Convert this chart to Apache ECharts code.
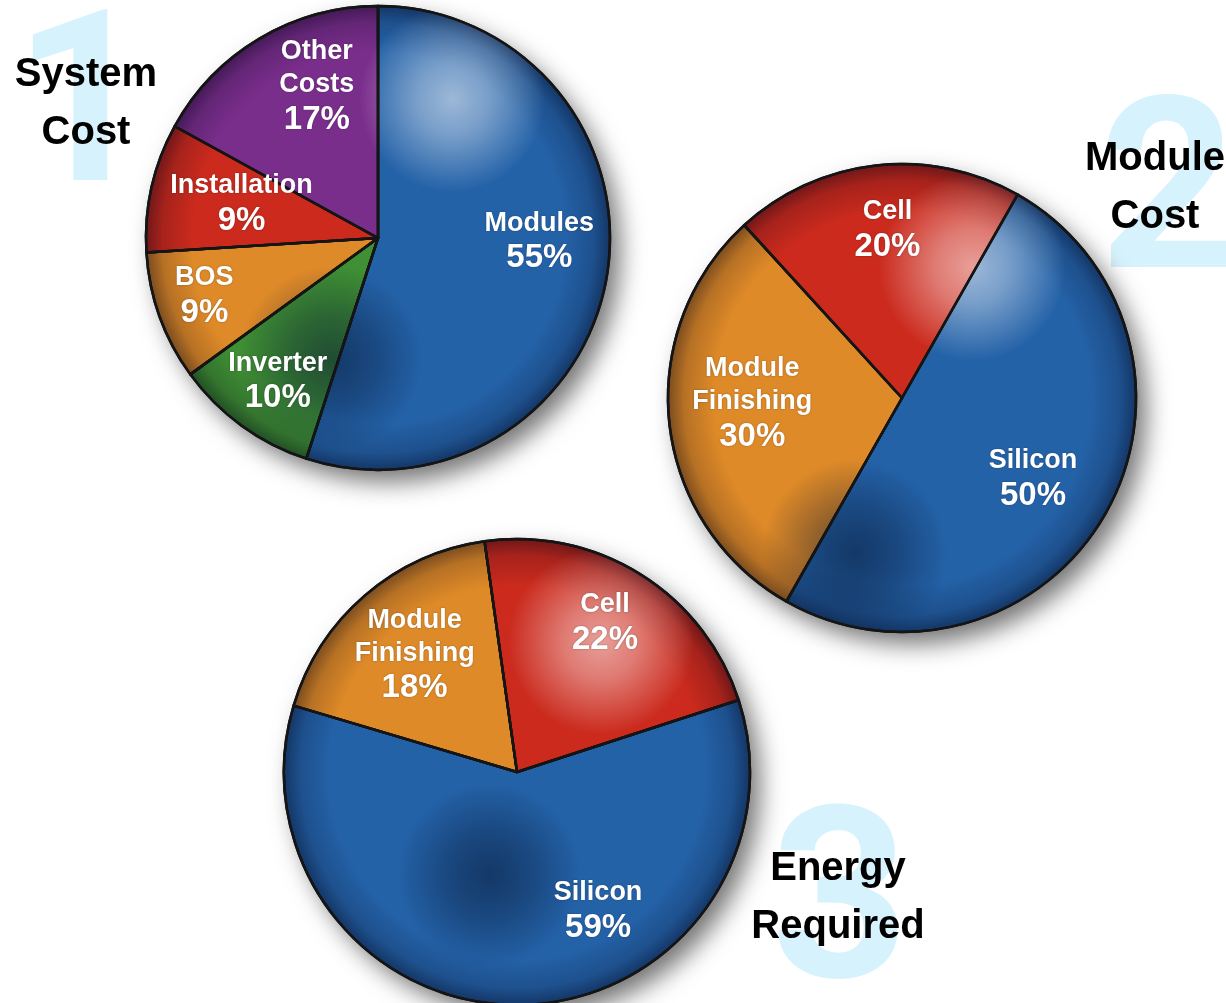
<!DOCTYPE html>
<html>
<head>
<meta charset="utf-8">
<title>PV cost and energy breakdown</title>
<script src="https://cdn.jsdelivr.net/npm/echarts@6/dist/echarts.min.js"></script>
<style>
  html, body { margin: 0; padding: 0; background: #ffffff; }
  #chart { width: 1226px; height: 1003px; }
</style>
</head>
<body>
<div id="chart"></div>
<script>
// 1 - System cost shares (%)
const systemCategories = ['Modules', 'Inverter', 'BOS', 'Installation', 'Other Costs'];
const systemValues = [55, 10, 9, 9, 17];

// 2 - Module cost shares (%)
const moduleCategories = ['Silicon', 'Module Finishing', 'Cell'];
const moduleValues = [50, 30, 20];

// 3 - Energy required shares (%)
const energyCategories = ['Silicon', 'Module Finishing', 'Cell'];
const energyValues = [59, 18, 22];

const panelTitles = ['System\nCost', 'Module\nCost', 'Energy\nRequired'];
const panelNumbers = ['1', '2', '3'];

// ---- styling ----
const FONT = '"Liberation Sans", "Helvetica Neue", Arial, sans-serif';
const NUMBER_FONT = 'Roboto, "Liberation Sans", Arial, sans-serif';
const sliceColors = {
  'Modules': '#2462a8',
  'Silicon': '#2462a8',
  'Inverter': '#3f8f34',
  'BOS': '#df8a28',
  'Module Finishing': '#df8a28',
  'Installation': '#cb2a1d',
  'Cell': '#cb2a1d',
  'Other Costs': '#7a2e8c'
};
const lineBreakNames = { 'Other Costs': 'Other\nCosts', 'Module Finishing': 'Module\nFinishing' };

// pie geometry and hand-placed label nudges
const panels = [
  { cats: systemCategories, vals: systemValues, center: [378, 238], r: 232, start: 90,
    nudge: { 'Modules': [-2, -22], 'Inverter': [-3, 10], 'BOS': [-18, 2], 'Installation': [25, 2], 'Other Costs': [23, -9] },
    glow: [0.66, 0.2], shade: [0.4, 0.76] },
  { cats: moduleCategories, vals: moduleValues, center: [902, 398], r: 234, start: 60.4,
    nudge: { 'Silicon': [-14, -1], 'Module Finishing': [16, -13], 'Cell': [4, -2] },
    glow: [0.65, 0.22], shade: [0.4, 0.83] },
  { cats: energyCategories, vals: energyValues, center: [517, 772], r: 233, start: 18,
    nudge: { 'Silicon': [79, -27], 'Module Finishing': [6, 9], 'Cell': [0, -8] },
    glow: [0.68, 0.22], shade: [0.44, 0.72] }
];

function radial(x, y, r, stops) {
  return { type: 'radial', x: x, y: y, r: r,
    colorStops: stops.map(s => ({ offset: s[0], color: s[1] })) };
}

function labelText(name, value) {
  const lines = (lineBreakNames[name] || name).split('\n').map(l => '{n|' + l + '}');
  return lines.join('\n') + '\n{p|' + value + '%}';
}

const common = { type: 'pie', silent: true, animation: false, clockwise: true,
  label: { show: false }, labelLine: { show: false }, emphasis: { disabled: true } };

const series = [];
panels.forEach(p => {
  // soft drop shadow under the disc
  series.push(Object.assign({}, common, {
    z: 1, center: p.center, radius: p.r, startAngle: p.start,
    data: [{ value: 1, itemStyle: { color: '#ffffff', shadowBlur: 24, shadowOffsetX: 10,
      shadowOffsetY: 12, shadowColor: 'rgba(0,0,0,0.55)' } }]
  }));
  // the slices
  series.push(Object.assign({}, common, {
    z: 2, center: p.center, radius: p.r, startAngle: p.start,
    data: p.cats.map((c, i) => ({ name: c, value: p.vals[i],
      itemStyle: { color: sliceColors[c], borderColor: '#151515', borderWidth: 2.5 } }))
  }));
  // rim darkening
  series.push(Object.assign({}, common, {
    z: 3, center: p.center, radius: p.r, startAngle: p.start,
    data: [{ value: 1, itemStyle: { borderWidth: 0, color: radial(0.5, 0.5, 0.5, [
      [0, 'rgba(0,0,20,0)'], [0.8, 'rgba(0,0,20,0)'], [0.93, 'rgba(0,0,20,0.18)'], [1, 'rgba(0,0,20,0.45)']]) } }]
  }));
  // specular highlight
  series.push(Object.assign({}, common, {
    z: 3, center: p.center, radius: p.r, startAngle: p.start,
    data: [{ value: 1, itemStyle: { borderWidth: 0, color: radial(p.glow[0], p.glow[1], 0.2, [
      [0, 'rgba(255,255,255,0.55)'], [0.4, 'rgba(255,255,255,0.38)'], [1, 'rgba(255,255,255,0)']]) } }]
  }));
  // dark spot lower down
  series.push(Object.assign({}, common, {
    z: 3, center: p.center, radius: p.r, startAngle: p.start,
    data: [{ value: 1, itemStyle: { borderWidth: 0, color: radial(p.shade[0], p.shade[1], 0.2, [
      [0, 'rgba(6,22,50,0.55)'], [0.45, 'rgba(6,22,50,0.35)'], [1, 'rgba(6,22,50,0)']]) } }]
  }));
  // slice outlines on top of shading
  series.push(Object.assign({}, common, {
    z: 4, center: p.center, radius: p.r, startAngle: p.start,
    data: p.cats.map((c, i) => ({ name: c, value: p.vals[i],
      itemStyle: { color: 'rgba(0,0,0,0)', borderColor: '#151515', borderWidth: 2.5 } }))
  }));
  // value labels
  series.push(Object.assign({}, common, {
    z: 5, center: p.center, radius: [p.r * 0.4, p.r], startAngle: p.start,
    data: p.cats.map((c, i) => ({ name: c, value: p.vals[i],
      itemStyle: { color: 'rgba(0,0,0,0)', borderWidth: 0 },
      label: { offset: p.nudge[c] || [0, 0] } })),
    label: {
      show: true, position: 'inside',
      formatter: prm => labelText(prm.name, prm.value),
      color: '#ffffff', align: 'center',
      rich: {
        n: { fontFamily: FONT, fontWeight: 'bold', fontSize: 27, lineHeight: 33, color: '#ffffff',
             textShadowColor: 'rgba(0,0,0,0.35)', textShadowBlur: 2 },
        p: { fontFamily: FONT, fontWeight: 'bold', fontSize: 33, lineHeight: 37, color: '#ffffff',
             textShadowColor: 'rgba(0,0,0,0.35)', textShadowBlur: 2 }
      }
    }
  }));
});

// big soft panel numbers and panel titles
const numberPos = [[82, 120], [1168, 207], [840, 917]];
const titlePos = [[86, 104], [1155, 188], [838, 898]];
const graphics = [];
panelNumbers.forEach((t, i) => {
  graphics.push({
    type: 'text', z: 0, silent: true,
    x: numberPos[i][0], y: numberPos[i][1],
    style: { text: t, font: 'bold 240px ' + NUMBER_FONT, fill: '#d6f2fc', align: 'center',
      verticalAlign: 'middle', shadowColor: '#d6f2fc', shadowBlur: 14 }
  });
});
panelTitles.forEach((t, i) => {
  graphics.push({
    type: 'text', z: 10, silent: true,
    x: titlePos[i][0], y: titlePos[i][1],
    style: { text: t, font: 'bold 40px ' + FONT, fill: '#000000', align: 'center',
      verticalAlign: 'middle', lineHeight: 58 }
  });
});

const chart = echarts.init(document.getElementById('chart'), null, { renderer: 'canvas' });
chart.setOption({
  backgroundColor: '#ffffff',
  animation: false,
  graphic: { elements: graphics },
  series: series
});
</script>
</body>
</html>
